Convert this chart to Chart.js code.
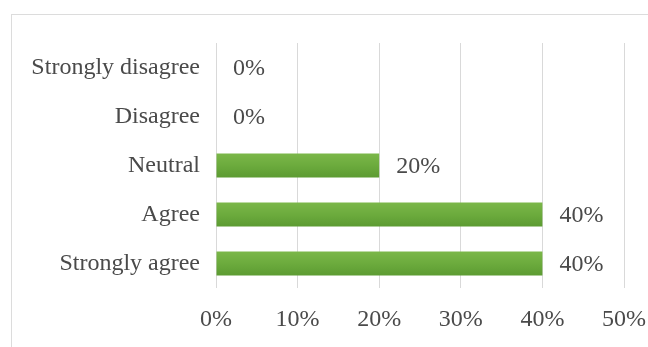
<!DOCTYPE html>
<html>
<head>
<meta charset="utf-8">
<script src="https://cdn.jsdelivr.net/npm/chart.js@4.4.1/dist/chart.umd.min.js"></script>
<style>
    html, body { margin: 0; padding: 0; background: #ffffff; }
    .chart-box { position: relative; width: 648px; height: 347px; }
</style>
</head>
<body>
<div class="chart-box"><canvas id="chart"></canvas></div>
<script>
const categories = ['Strongly disagree', 'Disagree', 'Neutral', 'Agree', 'Strongly agree'];
const shares = [0, 0, 20, 40, 40];
const tickValues = [0, 10, 20, 30, 40, 50];

const textColor = '#4a4a4a';
const gridColor = '#d9d9d9';
const font = { family: '"Liberation Serif", "Times New Roman", serif', size: 24 };
const barPct = 0.49;

// light grey frame like the original chart box
const framePlugin = {
    id: 'frame',
    beforeDraw(chart) {
        const ctx = chart.ctx;
        ctx.save();
        ctx.strokeStyle = '#dcdcdc';
        ctx.lineWidth = 1;
        ctx.strokeRect(11.5, 14.5, 700, 400);
        ctx.restore();
    }
};

// value labels right of the bar end
const labelPlugin = {
    id: 'valueLabels',
    afterDatasetsDraw(chart) {
        const ctx = chart.ctx;
        ctx.save();
        ctx.font = font.size + 'px ' + font.family;
        ctx.fillStyle = textColor;
        ctx.textAlign = 'left';
        ctx.textBaseline = 'middle';
        chart.getDatasetMeta(0).data.forEach((bar, i) => {
            ctx.fillText(shares[i] + '%', bar.x + 17, bar.y + 1);
        });
        ctx.restore();
    }
};

// vertical gradient per bar
function barFill(c) {
    const chart = c.chart;
    const y = chart.scales.y;
    if (!y || c.dataIndex === undefined) return '#6aaa3c';
    const mid = y.getPixelForValue(c.dataIndex);
    const half = y.height / categories.length * barPct / 2;
    if (!isFinite(mid)) return '#6aaa3c';
    const g = chart.ctx.createLinearGradient(0, mid - half, 0, mid + half);
    g.addColorStop(0, '#7bb749');
    g.addColorStop(0.5, '#6cab3d');
    g.addColorStop(1, '#5c9b32');
    return g;
}

new Chart(document.getElementById('chart'), {
    type: 'bar',
    data: {
        labels: categories,
        datasets: [{
            data: shares,
            backgroundColor: barFill,
            borderWidth: 0,
            categoryPercentage: 1,
            barPercentage: barPct
        }]
    },
    options: {
        indexAxis: 'y',
        responsive: true,
        maintainAspectRatio: false,
        animation: false,
        layout: { padding: { left: 0, top: 43, right: 24, bottom: 0 } },
        plugins: {
            legend: { display: false },
            tooltip: { enabled: false }
        },
        scales: {
            x: {
                min: 0,
                max: 50,
                afterBuildTicks(scale) {
                    scale.ticks = tickValues.map(v => ({ value: v }));
                },
                afterFit(scale) {
                    scale.height = 59;
                    scale.paddingLeft = 0;
                    scale.paddingRight = 0;
                },
                grid: { color: gridColor, drawTicks: false },
                border: { display: false },
                ticks: {
                    color: textColor,
                    font: font,
                    padding: 17,
                    callback: v => v + '%'
                }
            },
            y: {
                afterFit(scale) { scale.width = 216; },
                grid: { display: false, drawTicks: false },
                border: { display: false },
                ticks: {
                    color: textColor,
                    font: font,
                    padding: 16
                }
            }
        }
    },
    plugins: [framePlugin, labelPlugin]
});
</script>
</body>
</html>
